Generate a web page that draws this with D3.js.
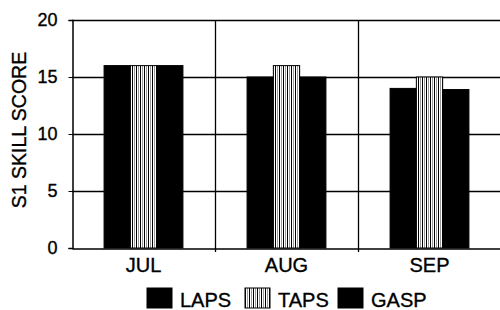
<!DOCTYPE html>
<html>
<head>
<meta charset="utf-8">
<script src="https://cdn.jsdelivr.net/npm/d3@7"></script>
<style>
  body { margin: 0; background: #fff; }
  text { font-family: "Liberation Sans", Arial, sans-serif; fill: #000; stroke: #000; stroke-width: 0.35px; }
</style>
</head>
<body>
<div id="chart"></div>
<script>
var months = ["JUL", "AUG", "SEP"];
var seriesNames = ["LAPS", "TAPS", "GASP"];
var lapsValues = [16, 15, 14];
var tapsValues = [16, 16, 15];
var gaspValues = [16, 15, 13.9];
var yTicks = [0, 5, 10, 15, 20];

var svgWidth = 500;
var svgHeight = 310;
var margin = { top: 20, right: -1, bottom: 62, left: 72 };
var crtWidth = svgWidth - margin.left - margin.right;
var crtHeight = svgHeight - margin.top - margin.bottom;

var svg = d3.select("#chart")
    .append("svg")
    .attr("width", svgWidth)
    .attr("height", svgHeight);

// striped fill used for TAPS
var defs = svg.append("defs");
var pat = defs.append("pattern")
    .attr("id", "stripes")
    .attr("patternUnits", "userSpaceOnUse")
    .attr("width", 4)
    .attr("height", 4);
pat.append("rect").attr("width", 4).attr("height", 4).attr("fill", "#fff");
pat.append("rect").attr("x", 0).attr("width", 1).attr("height", 4).attr("fill", "#000");
pat.append("rect").attr("x", 2).attr("width", 1).attr("height", 4).attr("fill", "#999");

var fills = { LAPS: "#000", TAPS: "url(#stripes)", GASP: "#000" };

var chartGroup = svg.append("g")
    .attr("transform", `translate(${margin.left}, ${margin.top})`);

var data = months.map(function(m, i) {
    return { month: m, LAPS: lapsValues[i], TAPS: tapsValues[i], GASP: gaspValues[i] };
});

var x0 = d3.scaleBand()
    .domain(months)
    .range([0, crtWidth])
    .padding(0);

var x1 = d3.scaleBand()
    .domain(seriesNames)
    .range([0, x0.bandwidth()])
    .paddingInner(0)
    .paddingOuter(1.22);

var y = d3.scaleLinear()
    .domain([0, 20])
    .range([crtHeight, 0]);

// horizontal grid
chartGroup.selectAll(".hgrid")
    .data(yTicks.filter(d => d > 0))
    .enter()
    .append("line")
    .attr("x1", 0)
    .attr("x2", crtWidth)
    .attr("y1", d => y(d) + 0.5)
    .attr("y2", d => y(d) + 0.5)
    .attr("stroke", "#000")
    .attr("stroke-width", 1.3);

// vertical separators
chartGroup.selectAll(".vgrid")
    .data(months.slice(1))
    .enter()
    .append("line")
    .attr("x1", d => x0(d) + 0.5)
    .attr("x2", d => x0(d) + 0.5)
    .attr("y1", 0)
    .attr("y2", crtHeight + 4)
    .attr("stroke", "#000")
    .attr("stroke-width", 1.3);

// bars
var groups = chartGroup.selectAll(".grp")
    .data(data)
    .enter()
    .append("g")
    .attr("transform", d => `translate(${x0(d.month)}, 0)`);

groups.selectAll("rect")
    .data(d => seriesNames.map(k => ({ key: k, value: d[k] })))
    .enter()
    .append("rect")
    .attr("x", d => x1(d.key))
    .attr("y", d => y(d.value))
    .attr("width", x1.bandwidth())
    .attr("height", d => crtHeight - y(d.value))
    .attr("fill", d => fills[d.key])
    .attr("stroke", "#000")
    .attr("stroke-width", 1);

// axes
var yAxis = d3.axisLeft(y).tickValues(yTicks).tickSize(4).tickPadding(11);
var yG = chartGroup.append("g")
    .attr("transform", "translate(0.5, 0)")
    .call(yAxis);
yG.select(".domain").attr("stroke-width", 1.5);
yG.selectAll("text").attr("font-size", "18px").attr("font-family", "Liberation Sans, Arial, sans-serif");

var xAxis = d3.axisBottom(x0).tickSize(0).tickPadding(9);
var xG = chartGroup.append("g")
    .attr("transform", `translate(0, ${crtHeight + 0.5})`)
    .call(xAxis);
xG.select(".domain").attr("stroke-width", 1.5);
xG.selectAll("text").attr("font-size", "20px").attr("font-family", "Liberation Sans, Arial, sans-serif");

svg.append("text")
    .attr("text-anchor", "middle")
    .attr("transform", "translate(26, 130) rotate(-90)")
    .attr("font-size", "19.5px")
    .text("S1 SKILL SCORE");

// legend
var legendX = [147, 245, 338];
var legend = svg.selectAll(".legend")
    .data(seriesNames)
    .enter()
    .append("g")
    .attr("transform", (d, i) => `translate(${legendX[i]}, 288)`);

legend.append("rect")
    .attr("width", 25)
    .attr("height", 20)
    .attr("fill", d => fills[d])
    .attr("stroke", "#000");

legend.append("text")
    .attr("x", 33)
    .attr("y", 19)
    .attr("font-size", "20px")
    .text(d => d);
</script>
</body>
</html>
